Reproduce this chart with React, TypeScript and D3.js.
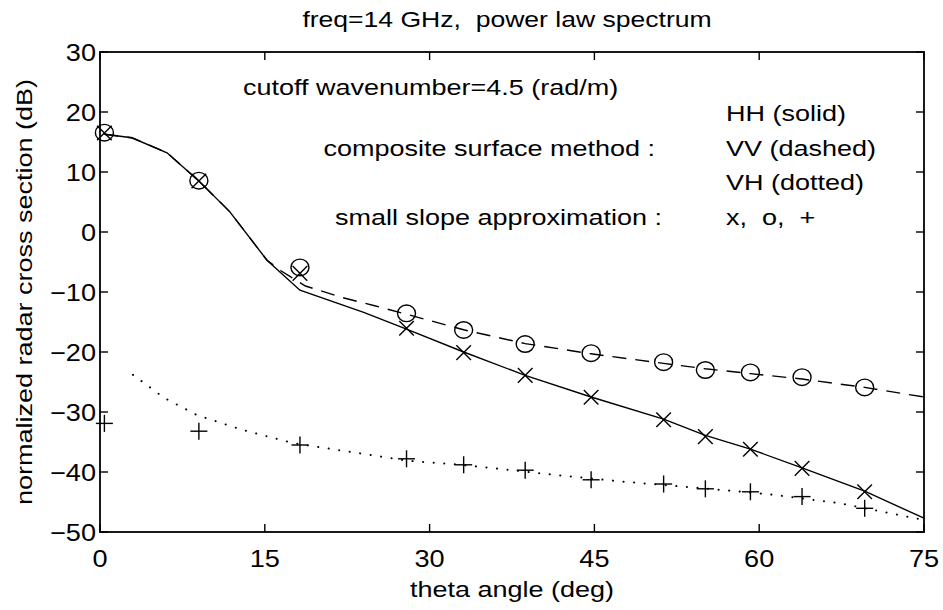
import React from 'react';
import * as d3 from 'd3';

// ---- data ----
const xTicks = [0, 15, 30, 45, 60, 75];
const yTicks = [-50, -40, -30, -20, -10, 0, 10, 20, 30];

const hhTheta = [0.4, 2.9, 6.1, 9, 11.8, 15.2, 18.2, 24, 27.9, 33.1, 38.7, 44.7, 51.3, 55.1, 59.2, 63.9, 69.6, 75];
const hhDb = [16.3, 15.7, 13.2, 8.5, 3.4, -4.7, -9.7, -13.4, -16.2, -20.0, -23.9, -27.5, -31.2, -33.9, -36.2, -39.3, -43.2, -47.7];

const vvTheta = [0.4, 2.9, 6.1, 9, 11.8, 15.2, 16.5, 18.7, 22, 25, 27.9, 33.1, 38.7, 44.7, 51.3, 55.1, 59.2, 63.9, 69.6, 75];
const vvDb = [16.3, 15.7, 13.2, 8.5, 3.4, -4.7, -6.5, -9.0, -10.9, -12.3, -13.7, -16.3, -18.6, -20.3, -21.9, -22.8, -23.6, -24.5, -25.9, -27.5];

const vhTheta = [3, 5.8, 8.8, 13, 17.6, 23.7, 27.9, 32.8, 35.5, 41.5, 47.6, 56.7, 61.3, 67.3, 75];
const vhDb = [-23.8, -27.6, -30.5, -33.0, -35.2, -36.9, -38.1, -38.8, -39.3, -40.5, -41.6, -43.0, -43.8, -45.2, -48.0];

const ssaTheta = [0.4, 9, 18.2, 27.9, 33.1, 38.7, 44.7, 51.3, 55.1, 59.2, 63.9, 69.6];
const ssaHH = [16.5, 8.5, -6.9, -16.05, -20.1, -23.9, -27.55, -31.3, -34.1, -36.2, -39.4, -43.3];
const ssaVV = [16.55, 8.55, -5.9, -13.55, -16.33, -18.67, -20.2, -21.7, -23.0, -23.4, -24.2, -25.9];
const ssaVH = [-31.9, -33.2, -35.5, -37.8, -38.8, -39.7, -41.3, -42.0, -42.8, -43.3, -44.1, -46.05];

const FONT = '"Liberation Sans", Arial, Helvetica, sans-serif';
const FS = 22.5;
const SX = 1.2;

function T({ x, y, anchor = 'start', size = FS, sx = SX, children }: { x: number; y: number; anchor?: string; size?: number; sx?: number; children: React.ReactNode }) {
  return (
    <text transform={`translate(${x},${y}) scale(${sx},1)`} textAnchor={anchor as any} fontFamily={FONT} fontSize={size} fill="#000" style={{ whiteSpace: 'pre' }}>
      {children}
    </text>
  );
}

const fmt = (v: number) => (v < 0 ? '\u2212' + Math.abs(v) : String(v));

export default function App() {
  const W = 943, H = 610;
  const L = 100, R = 924, TOP = 52, B = 532;
  const x = d3.scaleLinear().domain([0, 75]).range([L, R]);
  const y = d3.scaleLinear().domain([-50, 30]).range([B, TOP]);
  const line = d3.line<[number, number]>().x(d => x(d[0])).y(d => y(d[1]));
  const zip = (a: number[], b: number[]) => a.map((v, i) => [v, b[i]] as [number, number]);
  const tl = 8;
  const ms = 7.3;

  return (
    <svg width={W} height={H} style={{ position: 'absolute', left: 0, top: 0, background: '#fff' }}>
      <rect width={W} height={H} fill="#fff" />
      {/* curves */}
      <path d={line(zip(hhTheta, hhDb)) || ''} fill="none" stroke="#000" strokeWidth={1.4} />
      <path d={line(zip(vvTheta, vvDb)) || ''} fill="none" stroke="#000" strokeWidth={1.4} strokeDasharray="14 9" />
      <path d={line(zip(vhTheta, vhDb)) || ''} fill="none" stroke="#000" strokeWidth={2} strokeDasharray="0.1 10.5" strokeLinecap="round" />
      {/* markers */}
      {ssaTheta.map((t, i) => (
        <g key={'x' + i} stroke="#000" strokeWidth={1.4}>
          <line x1={x(t) - ms} y1={y(ssaHH[i]) - ms} x2={x(t) + ms} y2={y(ssaHH[i]) + ms} />
          <line x1={x(t) - ms} y1={y(ssaHH[i]) + ms} x2={x(t) + ms} y2={y(ssaHH[i]) - ms} />
        </g>
      ))}
      {ssaTheta.map((t, i) => (
        <ellipse key={'o' + i} cx={x(t)} cy={y(ssaVV[i])} rx={9} ry={8.3} fill="none" stroke="#000" strokeWidth={1.4} />
      ))}
      {ssaTheta.map((t, i) => (
        <g key={'p' + i} stroke="#000" strokeWidth={1.4}>
          <line x1={x(t) - 8.5} y1={y(ssaVH[i])} x2={x(t) + 8.5} y2={y(ssaVH[i])} />
          <line x1={x(t)} y1={y(ssaVH[i]) - 8.5} x2={x(t)} y2={y(ssaVH[i]) + 8.5} />
        </g>
      ))}
      {/* axes box */}
      <rect x={L} y={TOP} width={R - L} height={B - TOP} fill="none" stroke="#000" strokeWidth={1.8} />
      {xTicks.map(t => (
        <g key={'xt' + t} stroke="#000" strokeWidth={1.4}>
          <line x1={x(t)} x2={x(t)} y1={B} y2={B - tl} />
          <line x1={x(t)} x2={x(t)} y1={TOP} y2={TOP + tl} />
        </g>
      ))}
      {yTicks.map(t => (
        <g key={'yt' + t} stroke="#000" strokeWidth={1.4}>
          <line x1={L} x2={L + tl} y1={y(t)} y2={y(t)} />
          <line x1={R} x2={R - tl} y1={y(t)} y2={y(t)} />
        </g>
      ))}
      {xTicks.map(t => (
        <T key={'xl' + t} x={x(t)} y={567} anchor="middle" size={24} sx={1.13}>{fmt(t)}</T>
      ))}
      {yTicks.map(t => (
        <T key={'yl' + t} x={96} y={y(t) + 8.5} anchor="end" size={24} sx={1.13}>{fmt(t)}</T>
      ))}
      {/* titles */}
      <T x={507} y={27} anchor="middle" sx={1.18}>freq=14 GHz,  power law spectrum</T>
      <T x={512} y={597} anchor="middle">theta angle (deg)</T>
      <text transform={`translate(32,292) rotate(-90) scale(${SX},1)`} textAnchor="middle" fontFamily={FONT} fontSize={FS} fill="#000">
        normalized radar cross section (dB)
      </text>
      {/* annotations */}
      <T x={243} y={95}>cutoff wavenumber=4.5 (rad/m)</T>
      <T x={726} y={121}>HH (solid)</T>
      <T x={655} y={156} anchor="end">composite surface method :</T>
      <T x={726} y={156}>VV (dashed)</T>
      <T x={726} y={190}>VH (dotted)</T>
      <T x={662} y={225} anchor="end">small slope approximation :</T>
      <T x={726} y={225}>x,  o,  +</T>
    </svg>
  );
}
